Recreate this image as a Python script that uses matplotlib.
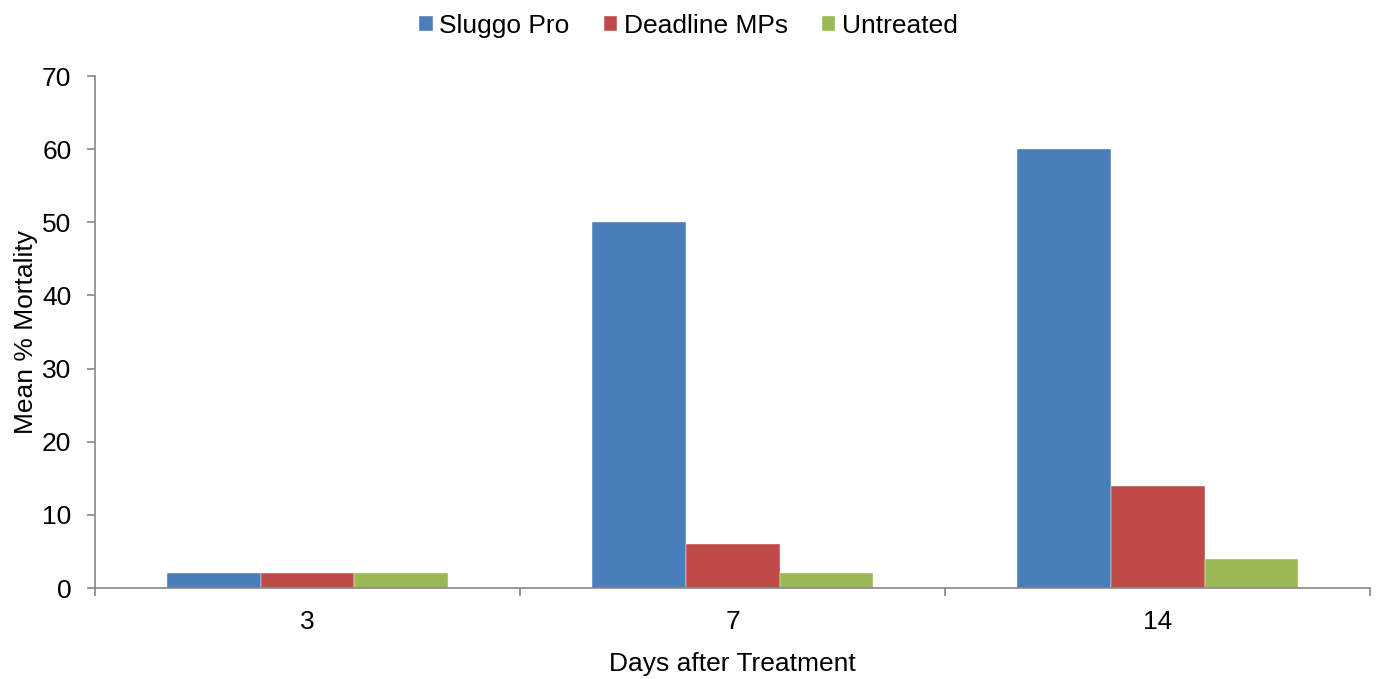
import numpy as np
import matplotlib.pyplot as plt

plt.rcParams['font.family'] = ['Liberation Sans', 'DejaVu Sans']

days = ['3', '7', '14']
series = ['Sluggo Pro', 'Deadline MPs', 'Untreated']
sluggo = [2, 50, 60]
deadline = [2, 6, 14]
untreated = [2, 2, 4]
colors = ['#4A7EBB', '#BE4B48', '#98B954']

fig = plt.figure(figsize=(13.77, 6.79), dpi=100)
ax = fig.add_axes([0.069, 0.134, 0.926, 0.754])

x = np.arange(len(days))
w = 0.221
for i, (vals, name, c) in enumerate(zip([sluggo, deadline, untreated], series, colors)):
    ax.bar(x + (i - 1) * w, vals, w, color=c, label=name, edgecolor='white', linewidth=0.3)

ax.set_xlim(-0.5, 2.5)
ax.set_ylim(0, 70)
ax.set_yticks(range(0, 71, 10))
ax.set_xticks(x)
ax.set_xticklabels(days)
ax.set_xticks([-0.5, 0.5, 1.5, 2.5], minor=True)
ax.tick_params(axis='x', which='major', length=0, pad=16, labelsize=19)
ax.tick_params(axis='x', which='minor', length=6, color='#868686', width=1.2)
ax.tick_params(axis='y', length=6, color='#868686', width=1.2, labelsize=19, pad=11)

for s in ['top', 'right']:
    ax.spines[s].set_visible(False)
for s in ['left', 'bottom']:
    ax.spines[s].set_color('#868686')
    ax.spines[s].set_linewidth(1.2)

ax.set_xlabel('Days after Treatment', fontsize=19, labelpad=13)
ax.set_ylabel('Mean % Mortality', fontsize=19, labelpad=3)

fig.legend(loc='upper center', bbox_to_anchor=(0.5, 1.014), ncol=3, frameon=False,
           fontsize=19, handlelength=0.5, handleheight=0.5, handletextpad=0.25,
           columnspacing=1.3)

fig.savefig('out.png', dpi=100)
